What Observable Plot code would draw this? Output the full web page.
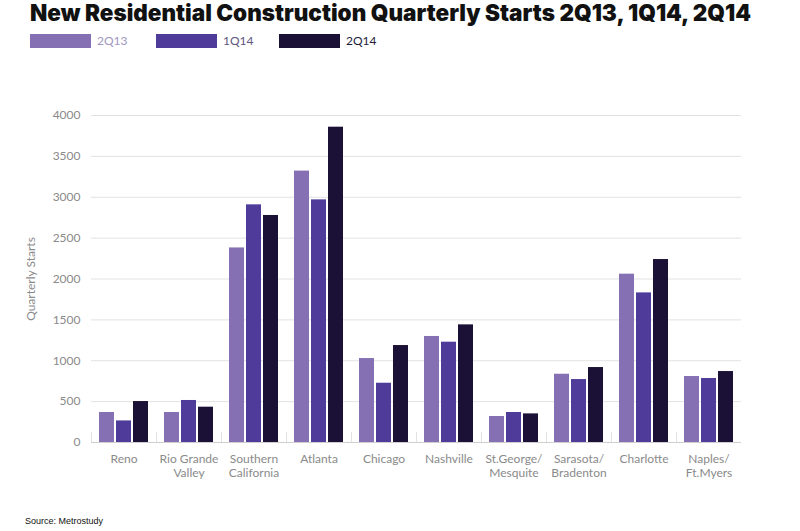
<!DOCTYPE html>
<html><head><meta charset="utf-8">
<script src="https://cdn.jsdelivr.net/npm/d3@7"></script>
<script src="https://cdn.jsdelivr.net/npm/@observablehq/plot@0.6"></script>
<style>
body{margin:0;background:#fff;width:800px;height:531px;position:relative;overflow:hidden;font-family:Lato,sans-serif}
#title{position:absolute;left:30px;top:1px;font-family:Inter,sans-serif;font-weight:900;font-size:22.5px;letter-spacing:0px;line-height:24px;color:#111;white-space:nowrap}
.sw{position:absolute;top:34px;width:61px;height:14px}
.lb{position:absolute;top:33px;font-family:Lato,sans-serif;font-size:12px;line-height:16px}
#chart{position:absolute;left:0;top:55px}
#src{position:absolute;left:25px;top:516px;font-family:"Liberation Sans Narrow","Liberation Sans",sans-serif;font-size:9px;color:#111}
</style></head>
<body>
<div id="title">New Residential Construction Quarterly Starts 2Q13, 1Q14, 2Q14</div>
<div id="legend"></div>
<div id="chart"></div>
<div id="src">Source: Metrostudy</div>
<script>
const cities = ["Reno","Rio Grande\nValley","Southern\nCalifornia","Atlanta","Chicago","Nashville","St.George/\nMesquite","Sarasota/\nBradenton","Charlotte","Naples/\nFt.Myers"];
const series = ["2Q13","1Q14","2Q14"];
const v2Q13 = [367,367,2380,3320,1027,1297,318,835,2059,807];
const v1Q14 = [264,514,2907,2968,725,1227,367,770,1830,783];
const v2Q14 = [501,432,2777,3857,1186,1439,350,917,2238,868];
const yTicks = [0,500,1000,1500,2000,2500,3000,3500,4000];
const colors = ["#8470b3","#4f3b9a","#1b1036"];
const labelColors = ["#a096c0","#5e5580","#231c3c"];
const legendX = [30,156,279];

const table = [];
const vals = [v2Q13, v1Q14, v2Q14];
cities.forEach((c,i) => series.forEach((s,j) => table.push({city:c, series:s, value:vals[j][i]})));

const leg = document.getElementById("legend");
series.forEach((s,j) => {
  const sw = document.createElement("div");
  sw.className = "sw"; sw.style.left = legendX[j] + "px"; sw.style.background = colors[j];
  const lb = document.createElement("div");
  lb.className = "lb"; lb.style.left = (legendX[j] + 67) + "px"; lb.style.color = labelColors[j];
  lb.textContent = s;
  leg.appendChild(sw); leg.appendChild(lb);
});

const chart = Plot.plot({
  width: 800, height: 455,
  marginTop: 60, marginBottom: 68, marginLeft: 88, marginRight: 57,
  style: {fontFamily: "Lato, sans-serif", fontSize: "12px", color: "#8a8a8a", background: "transparent"},
  fx: {domain: cities, paddingInner: 0, paddingOuter: 0, label: null, axis: null},
  x: {domain: series, axis: null, paddingInner: 0.12, paddingOuter: 0.4},
  y: {domain: [0, 4000]},
  color: {domain: series, range: colors},
  marks: [
    Plot.gridY(yTicks, {stroke: "#e2e2e2", strokeOpacity: 1}),
    Plot.frame({anchor: "left", stroke: "#e2e2e2", strokeOpacity: 1, insetTop: 317}),
    Plot.axisY(yTicks, {tickSize: 0, tickPadding: 11, tickFormat: d => String(d), label: "Quarterly Starts", labelAnchor: "center", labelArrow: "none", labelOffset: 65, fontSize: 12}),
    Plot.axisFx({anchor: "bottom", tickSize: 0, tickPadding: 11, label: null, lineHeight: 1.15, fontSize: 12}),
    Plot.barY(table, {fx: "city", x: "series", y: "value", fill: "series"}),
    Plot.ruleY([0], {stroke: "#cfcfcf"})
  ]
});
document.getElementById("chart").appendChild(chart);
</script>
</body></html>
